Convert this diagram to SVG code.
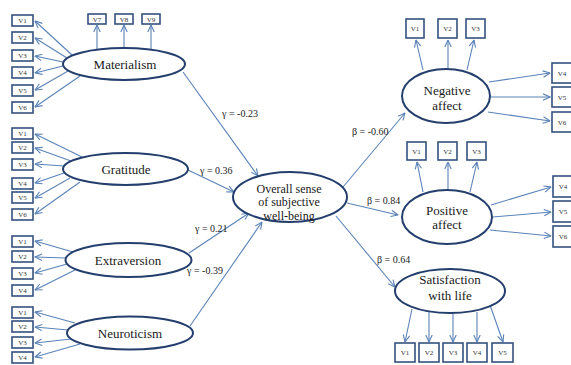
<svg xmlns="http://www.w3.org/2000/svg" width="571" height="365" viewBox="0 0 571 365" font-family="'Liberation Serif','Times New Roman','DejaVu Serif',serif">
<defs>
<marker id="ah" viewBox="0 0 8 8" refX="7.5" refY="4" markerWidth="8" markerHeight="8" markerUnits="userSpaceOnUse" orient="auto">
<path d="M0.5,0.8 L7.5,4 L0.5,7.2" fill="none" stroke="#5a83b8" stroke-width="1.1"/>
</marker>
<style>
text{font-family:'Liberation Serif','Times New Roman','DejaVu Serif',serif}
.lat{fill:#fff;stroke:#243f6d;stroke-width:2}
.box{fill:#fff;stroke:#34527f;stroke-width:1.6}
.bl{font-size:7px;fill:#333;text-anchor:middle}
.lt{font-size:13px;fill:#1a1a1a;text-anchor:middle}
.ct{font-size:12px;fill:#1a1a1a;text-anchor:middle}
.cf{font-size:10px;fill:#222}
.c line{stroke:#5a83b8;stroke-width:1.1;marker-end:url(#ah)}
</style>
</defs>
<rect width="571" height="365" fill="#fff"/>

<g id="connectors" class="c">
<line x1="72" y1="55" x2="35" y2="21"/>
<line x1="67" y1="58" x2="35" y2="38"/>
<line x1="63" y1="62" x2="35" y2="56"/>
<line x1="63" y1="66" x2="35" y2="73"/>
<line x1="68" y1="71" x2="35" y2="90"/>
<line x1="80" y1="76" x2="35" y2="107"/>
<line x1="97" y1="50" x2="97" y2="25"/>
<line x1="124" y1="48" x2="124" y2="25"/>
<line x1="151" y1="49" x2="151" y2="25"/>
<line x1="82" y1="157" x2="35" y2="134"/>
<line x1="71" y1="161" x2="35" y2="148"/>
<line x1="64" y1="166" x2="35" y2="164"/>
<line x1="64" y1="173" x2="35" y2="183"/>
<line x1="70" y1="178" x2="35" y2="198"/>
<line x1="80" y1="182" x2="35" y2="214"/>
<line x1="73" y1="252" x2="35" y2="241"/>
<line x1="66" y1="258" x2="35" y2="257"/>
<line x1="67" y1="264" x2="35" y2="273"/>
<line x1="75" y1="270" x2="35" y2="290"/>
<line x1="75" y1="323" x2="35" y2="312"/>
<line x1="68" y1="330" x2="35" y2="327"/>
<line x1="71" y1="339" x2="35" y2="343"/>
<line x1="80" y1="344" x2="35" y2="357"/>
<line x1="183" y1="72" x2="258" y2="176"/>
<line x1="188" y1="170" x2="234" y2="192"/>
<line x1="189" y1="253" x2="249" y2="213"/>
<line x1="190" y1="326" x2="262" y2="222"/>
<line x1="343" y1="187" x2="405" y2="113"/>
<line x1="347" y1="203" x2="398" y2="215"/>
<line x1="336" y1="216" x2="395" y2="287"/>
<line x1="423" y1="70" x2="416" y2="40"/>
<line x1="448" y1="68" x2="448" y2="40"/>
<line x1="467" y1="70" x2="474" y2="40"/>
<line x1="489" y1="82" x2="550" y2="73"/>
<line x1="491" y1="97" x2="550" y2="97"/>
<line x1="488" y1="112" x2="550" y2="121"/>
<line x1="423" y1="192" x2="417" y2="162"/>
<line x1="448" y1="189" x2="448" y2="162"/>
<line x1="470" y1="192" x2="477" y2="162"/>
<line x1="491" y1="205" x2="551" y2="187"/>
<line x1="493" y1="217" x2="551" y2="212"/>
<line x1="490" y1="230" x2="551" y2="236"/>
<line x1="412" y1="309" x2="405" y2="342"/>
<line x1="429" y1="312" x2="429" y2="342"/>
<line x1="453" y1="313" x2="453" y2="342"/>
<line x1="477" y1="312" x2="477" y2="342"/>
<line x1="490" y1="305" x2="503" y2="342"/>
</g>

<g id="coefficients">
<text class="cf" x="222" y="117">γ = -0.23</text>
<text class="cf" x="200" y="174">γ = 0.36</text>
<text class="cf" x="195" y="232">γ = 0.21</text>
<text class="cf" x="187" y="274">γ = -0.39</text>
<text class="cf" x="352" y="135">β = -0.60</text>
<text class="cf" x="367" y="204">β = 0.84</text>
<text class="cf" x="377" y="263">β = 0.64</text>
</g>

<g id="materialism"><ellipse class="lat" cx="124" cy="64" rx="61" ry="16"/><text class="lt" x="125" y="69">Materialism</text></g>
<g id="mat-v1"><rect class="box" x="12" y="15" width="21" height="11"/><text class="bl" x="22.5" y="23">V1</text></g>
<g id="mat-v2"><rect class="box" x="12" y="32" width="21" height="11"/><text class="bl" x="22.5" y="40">V2</text></g>
<g id="mat-v3"><rect class="box" x="12" y="50" width="21" height="11"/><text class="bl" x="22.5" y="58">V3</text></g>
<g id="mat-v4"><rect class="box" x="12" y="67" width="21" height="11"/><text class="bl" x="22.5" y="75">V4</text></g>
<g id="mat-v5"><rect class="box" x="12" y="85" width="21" height="11"/><text class="bl" x="22.5" y="93">V5</text></g>
<g id="mat-v6"><rect class="box" x="12" y="102" width="21" height="11"/><text class="bl" x="22.5" y="110">V6</text></g>
<g id="mat-v7"><rect class="box" x="88" y="14" width="18" height="10"/><text class="bl" x="97" y="21.5">V7</text></g>
<g id="mat-v8"><rect class="box" x="115" y="14" width="18" height="10"/><text class="bl" x="124" y="21.5">V8</text></g>
<g id="mat-v9"><rect class="box" x="142" y="14" width="18" height="10"/><text class="bl" x="151" y="21.5">V9</text></g>

<g id="gratitude"><ellipse class="lat" cx="125.5" cy="169" rx="62.5" ry="16"/><text class="lt" x="126" y="173.5">Gratitude</text></g>
<g id="gra-v1"><rect class="box" x="12" y="128" width="21" height="11"/><text class="bl" x="22.5" y="136">V1</text></g>
<g id="gra-v2"><rect class="box" x="12" y="142" width="21" height="11"/><text class="bl" x="22.5" y="150">V2</text></g>
<g id="gra-v3"><rect class="box" x="12" y="159" width="21" height="11"/><text class="bl" x="22.5" y="167">V3</text></g>
<g id="gra-v4"><rect class="box" x="12" y="178" width="21" height="11"/><text class="bl" x="22.5" y="186">V4</text></g>
<g id="gra-v5"><rect class="box" x="12" y="192" width="21" height="11"/><text class="bl" x="22.5" y="200">V5</text></g>
<g id="gra-v6"><rect class="box" x="12" y="209" width="21" height="11"/><text class="bl" x="22.5" y="217">V6</text></g>

<g id="extraversion"><ellipse class="lat" cx="128.5" cy="260" rx="63" ry="17"/><text class="lt" x="128" y="264.5">Extraversion</text></g>
<g id="ext-v1"><rect class="box" x="12" y="236" width="21" height="11"/><text class="bl" x="22.5" y="244">V1</text></g>
<g id="ext-v2"><rect class="box" x="12" y="251" width="21" height="11"/><text class="bl" x="22.5" y="259">V2</text></g>
<g id="ext-v3"><rect class="box" x="12" y="268" width="21" height="11"/><text class="bl" x="22.5" y="276">V3</text></g>
<g id="ext-v4"><rect class="box" x="12" y="285" width="21" height="11"/><text class="bl" x="22.5" y="293">V4</text></g>

<g id="neuroticism"><ellipse class="lat" cx="130" cy="333" rx="63" ry="16.5"/><text class="lt" x="130" y="337.5">Neuroticism</text></g>
<g id="neu-v1"><rect class="box" x="12" y="307" width="21" height="11"/><text class="bl" x="22.5" y="315">V1</text></g>
<g id="neu-v2"><rect class="box" x="12" y="321" width="21" height="11"/><text class="bl" x="22.5" y="329">V2</text></g>
<g id="neu-v3"><rect class="box" x="12" y="337" width="21" height="11"/><text class="bl" x="22.5" y="345">V3</text></g>
<g id="neu-v4"><rect class="box" x="12" y="352" width="21" height="11"/><text class="bl" x="22.5" y="360">V4</text></g>

<g id="overall"><ellipse class="lat" cx="290" cy="197" rx="57" ry="25"/>
<text class="ct" x="289" y="193">Overall sense</text>
<text class="ct" x="289" y="206">of subjective</text>
<text class="ct" x="289" y="220">well-being</text></g>

<g id="negative"><ellipse class="lat" cx="446" cy="96" rx="44" ry="27"/>
<text class="lt" x="447" y="95">Negative</text><text class="lt" x="447" y="110">affect</text></g>
<g id="neg-v1"><rect class="box" x="406" y="19" width="18" height="19"/><text class="bl" x="415" y="31">V1</text></g>
<g id="neg-v2"><rect class="box" x="438" y="19" width="19" height="19"/><text class="bl" x="447.5" y="31">V2</text></g>
<g id="neg-v3"><rect class="box" x="466" y="19" width="19" height="19"/><text class="bl" x="475.5" y="31">V3</text></g>
<g id="neg-v4"><rect class="box" x="552" y="63" width="24" height="20"/><text class="bl" x="562" y="75.5">V4</text></g>
<g id="neg-v5"><rect class="box" x="552" y="87" width="24" height="20"/><text class="bl" x="562" y="99.5">V5</text></g>
<g id="neg-v6"><rect class="box" x="552" y="112" width="24" height="20"/><text class="bl" x="562" y="124.5">V6</text></g>

<g id="positive"><ellipse class="lat" cx="447" cy="217" rx="45" ry="27"/>
<text class="lt" x="447" y="215">Positive</text><text class="lt" x="447" y="229">affect</text></g>
<g id="pos-v1"><rect class="box" x="407" y="142" width="19" height="18"/><text class="bl" x="416.5" y="153.5">V1</text></g>
<g id="pos-v2"><rect class="box" x="438" y="142" width="19" height="18"/><text class="bl" x="447.5" y="153.5">V2</text></g>
<g id="pos-v3"><rect class="box" x="467" y="142" width="19" height="18"/><text class="bl" x="476.5" y="153.5">V3</text></g>
<g id="pos-v4"><rect class="box" x="553" y="176" width="24" height="21"/><text class="bl" x="563" y="189">V4</text></g>
<g id="pos-v5"><rect class="box" x="553" y="201" width="24" height="21"/><text class="bl" x="563" y="214">V5</text></g>
<g id="pos-v6"><rect class="box" x="553" y="226" width="24" height="21"/><text class="bl" x="563" y="239">V6</text></g>

<g id="satisfaction"><ellipse class="lat" cx="450" cy="291" rx="55" ry="22"/>
<text class="lt" x="450" y="284">Satisfaction</text><text class="lt" x="450" y="300">with life</text></g>
<g id="sat-v1"><rect class="box" x="395" y="343" width="20" height="19"/><text class="bl" x="405" y="355">V1</text></g>
<g id="sat-v2"><rect class="box" x="419" y="343" width="20" height="19"/><text class="bl" x="429" y="355">V2</text></g>
<g id="sat-v3"><rect class="box" x="443" y="343" width="20" height="19"/><text class="bl" x="453" y="355">V3</text></g>
<g id="sat-v4"><rect class="box" x="467" y="343" width="20" height="19"/><text class="bl" x="477" y="355">V4</text></g>
<g id="sat-v5"><rect class="box" x="492" y="343" width="21" height="19"/><text class="bl" x="502.5" y="355">V5</text></g>
</svg>
